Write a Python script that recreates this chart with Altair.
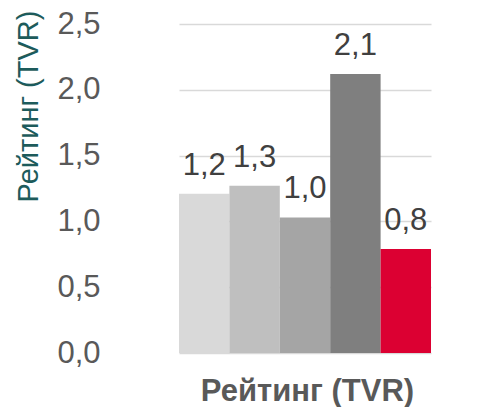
import altair as alt
import pandas as pd

categories = ["A", "B", "C", "D", "E"]
values = [1.21, 1.27, 1.03, 2.12, 0.79]
colors = ["#d9d9d9", "#bfbfbf", "#a5a5a5", "#7f7f7f", "#dc0032"]
y_ticks = [0, 0.5, 1.0, 1.5, 2.0, 2.5]

df = pd.DataFrame({"cat": categories, "value": values})
FONT = "Liberation Sans"

base = alt.Chart(df).encode(
    x=alt.X(
        "cat:N",
        sort=categories,
        scale=alt.Scale(range=[50, 302], paddingInner=0, paddingOuter=0),
        axis=alt.Axis(
            title="Рейтинг (TVR)",
            labels=False,
            ticks=False,
            domain=False,
            titleFont=FONT,
            titleFontSize=31,
            titleFontWeight="bold",
            titleColor="#595959",
            titleBaseline="alphabetic",
            titleAlign="center",
            titleX=178,
            titleY=47,
        ),
    ),
    y=alt.Y(
        "value:Q",
        scale=alt.Scale(domain=[0, 2.5], nice=False),
        axis=alt.Axis(
            title="Рейтинг (TVR)",
            values=y_ticks,
            labelExpr="replace(format(datum.value, '.1f'), '.', ',')",
            labelFont=FONT,
            labelFontSize=31,
            labelColor="#595959",
            labelPadding=29,
            ticks=False,
            domain=False,
            grid=True,
            gridColor="#d9d9d9",
            gridWidth=1.5,
            titleFont=FONT,
            titleFontSize=29,
            titleFontWeight="normal",
            titleColor="#1d5b5b",
            titleAngle=270,
            titleAlign="center",
            titleBaseline="middle",
            titleX=-101,
            titleY=82,
        ),
    ),
)

bars = base.mark_bar().encode(
    color=alt.Color("cat:N", scale=alt.Scale(domain=categories, range=colors), legend=None)
)

labels = base.transform_calculate(
    label="replace(format(datum.value, '.1f'), '.', ',')"
).mark_text(
    baseline="alphabetic", dy=-19, font=FONT, fontSize=31, color="#404040"
).encode(text="label:N")

chart = (
    alt.layer(bars, labels)
    .properties(
        width=343,
        height=329,
        autosize=alt.AutoSizeParams(type="none"),
        padding={"left": 121, "top": 16, "right": 0, "bottom": 54},
    )
    .configure_view(stroke=None)
)

chart.save("out.html", embed_options={"renderer": "svg", "actions": False})
